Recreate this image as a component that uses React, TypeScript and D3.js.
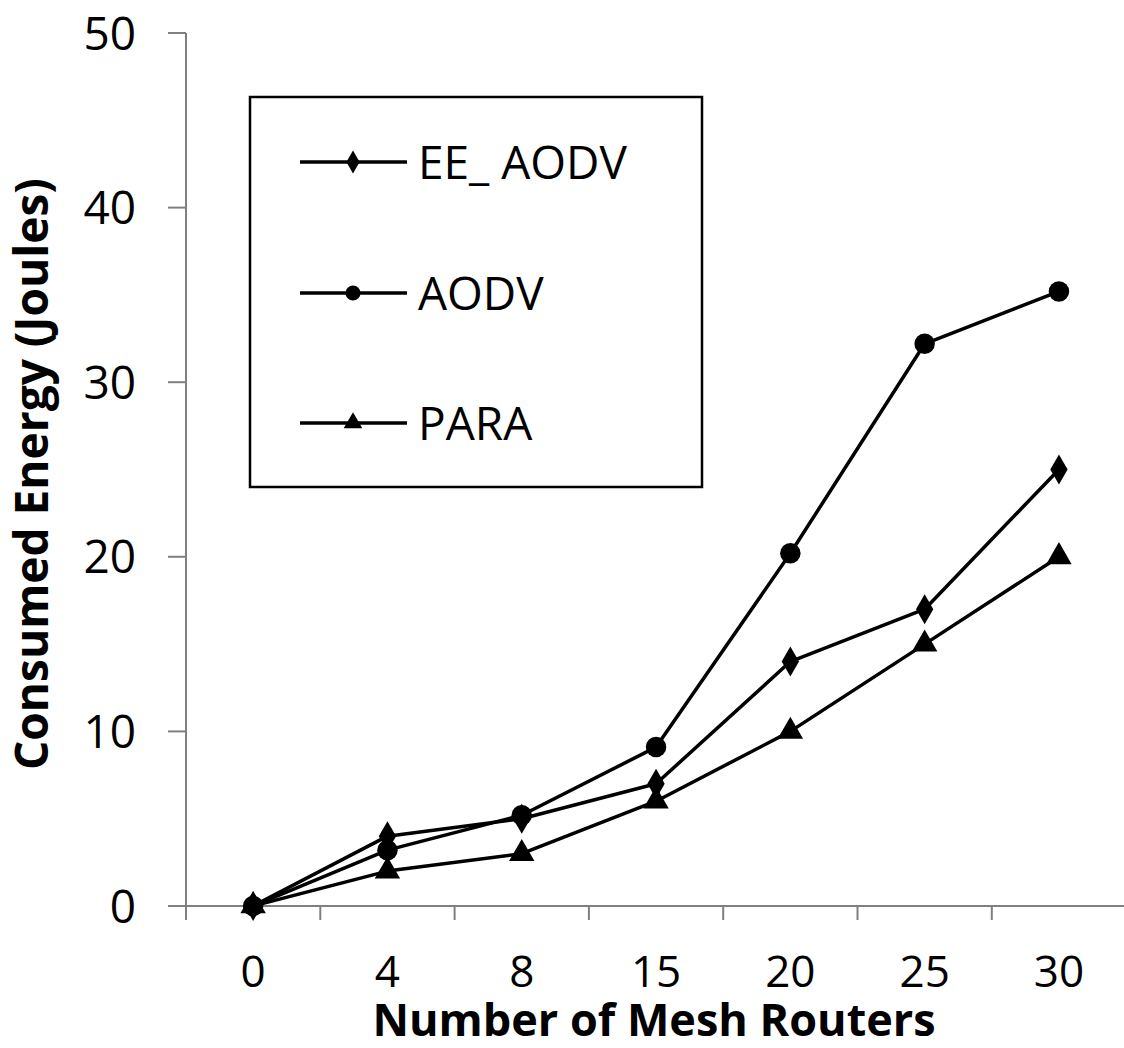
import React, { useEffect, useRef } from "react";
import * as d3 from "d3";

const categories = ["0", "4", "8", "15", "20", "25", "30"];
const eeAodv = [0, 4, 5, 7, 14, 17, 25];
const aodv = [0, 3.2, 5.2, 9.1, 20.2, 32.2, 35.2];
const para = [0, 2, 3, 6, 10, 15, 20];
const yTicks = [0, 10, 20, 30, 40, 50];
const seriesNames = ["EE_ AODV", "AODV", "PARA"];
const seriesMarkers = ["diamond", "circle", "triangle"];

const W = 1124;
const H = 1048;
const FONT = "'Open Sans', sans-serif";

export default function App() {
  const ref = useRef<SVGSVGElement | null>(null);

  useEffect(() => {
    const svg = d3.select(ref.current);
    svg.selectAll("*").remove();

    const x0 = 186, x1 = 186 + 7 * 134.3;
    const yTop = 33, yBot = 906;
    const x = d3.scaleBand<string>().domain(categories).range([x0, x1]).padding(0);
    const y = d3.scaleLinear().domain([0, 50]).range([yBot, yTop]);
    const cx = (c: string) => (x(c) as number) + x.bandwidth() / 2;
    const axisColor = "#7f7f7f";

    // Y axis
    svg.append("line").attr("x1", x0).attr("x2", x0).attr("y1", yTop).attr("y2", yBot + 14)
      .attr("stroke", axisColor).attr("stroke-width", 2);
    yTicks.forEach((t) => {
      svg.append("line").attr("x1", 168).attr("x2", x0).attr("y1", y(t)).attr("y2", y(t))
        .attr("stroke", axisColor).attr("stroke-width", 2);
      svg.append("text").attr("x", 136).attr("y", y(t)).attr("dy", "0.36em")
        .attr("text-anchor", "end").attr("font-family", FONT).attr("font-size", 46)
        .attr("fill", "#000").text(String(t));
    });

    // X axis
    svg.append("line").attr("x1", 168).attr("x2", W).attr("y1", yBot).attr("y2", yBot)
      .attr("stroke", axisColor).attr("stroke-width", 2);
    categories.forEach((c, i) => {
      const bx = x(c) as number;
      if (i > 0) {
        svg.append("line").attr("x1", bx).attr("x2", bx).attr("y1", yBot).attr("y2", yBot + 14)
          .attr("stroke", axisColor).attr("stroke-width", 2);
      }
      svg.append("text").attr("x", cx(c)).attr("y", 987)
        .attr("text-anchor", "middle").attr("font-family", FONT).attr("font-size", 44)
        .attr("fill", "#000").text(c);
    });

    // Titles
    svg.append("text").attr("x", 654).attr("y", 1036).attr("text-anchor", "middle")
      .attr("font-family", FONT).attr("font-weight", "bold").attr("font-size", 45)
      .attr("fill", "#000").text("Number of Mesh Routers");
    svg.append("text").attr("transform", "translate(48,474) rotate(-90)")
      .attr("text-anchor", "middle")
      .attr("font-family", FONT).attr("font-weight", "bold").attr("font-size", 46)
      .attr("fill", "#000").text("Consumed Energy (Joules)");

    const symbolFor = (m: string, size: number) => {
      const type = m === "diamond" ? d3.symbolDiamond : m === "circle" ? d3.symbolCircle : d3.symbolTriangle;
      return d3.symbol().type(type).size(size)() as string;
    };

    const allSeries = [eeAodv, aodv, para];
    const line = d3.line<number>().x((_, i) => cx(categories[i])).y((v) => y(v));

    allSeries.forEach((vals) => {
      svg.append("path").attr("d", line(vals) as string).attr("fill", "none")
        .attr("stroke", "#000").attr("stroke-width", 3.5).attr("stroke-linejoin", "round");
    });
    allSeries.forEach((vals, si) => {
      const m = seriesMarkers[si];
      const size = m === "circle" ? 330 : m === "diamond" ? 260 : 280;
      vals.forEach((v, i) => {
        svg.append("path").attr("d", symbolFor(m, size))
          .attr("transform", `translate(${cx(categories[i])},${y(v)})`)
          .attr("fill", "#000");
      });
    });

    // Legend
    svg.append("rect").attr("x", 250).attr("y", 97).attr("width", 452).attr("height", 390)
      .attr("fill", "#fff").attr("stroke", "#000").attr("stroke-width", 2.5);
    const legendY = [162, 293, 423];
    seriesNames.forEach((name, i) => {
      const ly = legendY[i];
      svg.append("line").attr("x1", 300).attr("x2", 407).attr("y1", ly).attr("y2", ly)
        .attr("stroke", "#000").attr("stroke-width", 3.5);
      const m = seriesMarkers[i];
      svg.append("path").attr("d", symbolFor(m, m === "circle" ? 180 : 150))
        .attr("transform", `translate(353,${ly})`).attr("fill", "#000");
      svg.append("text").attr("x", 418).attr("y", ly).attr("dy", "0.36em")
        .attr("font-family", FONT).attr("font-size", 46).attr("fill", "#000").text(name);
    });
  }, []);

  return (
    <div style={{ position: "absolute", left: 0, top: 0 }}>
      <svg ref={ref} width={W} height={H} style={{ display: "block", background: "#fff" }} />
    </div>
  );
}
